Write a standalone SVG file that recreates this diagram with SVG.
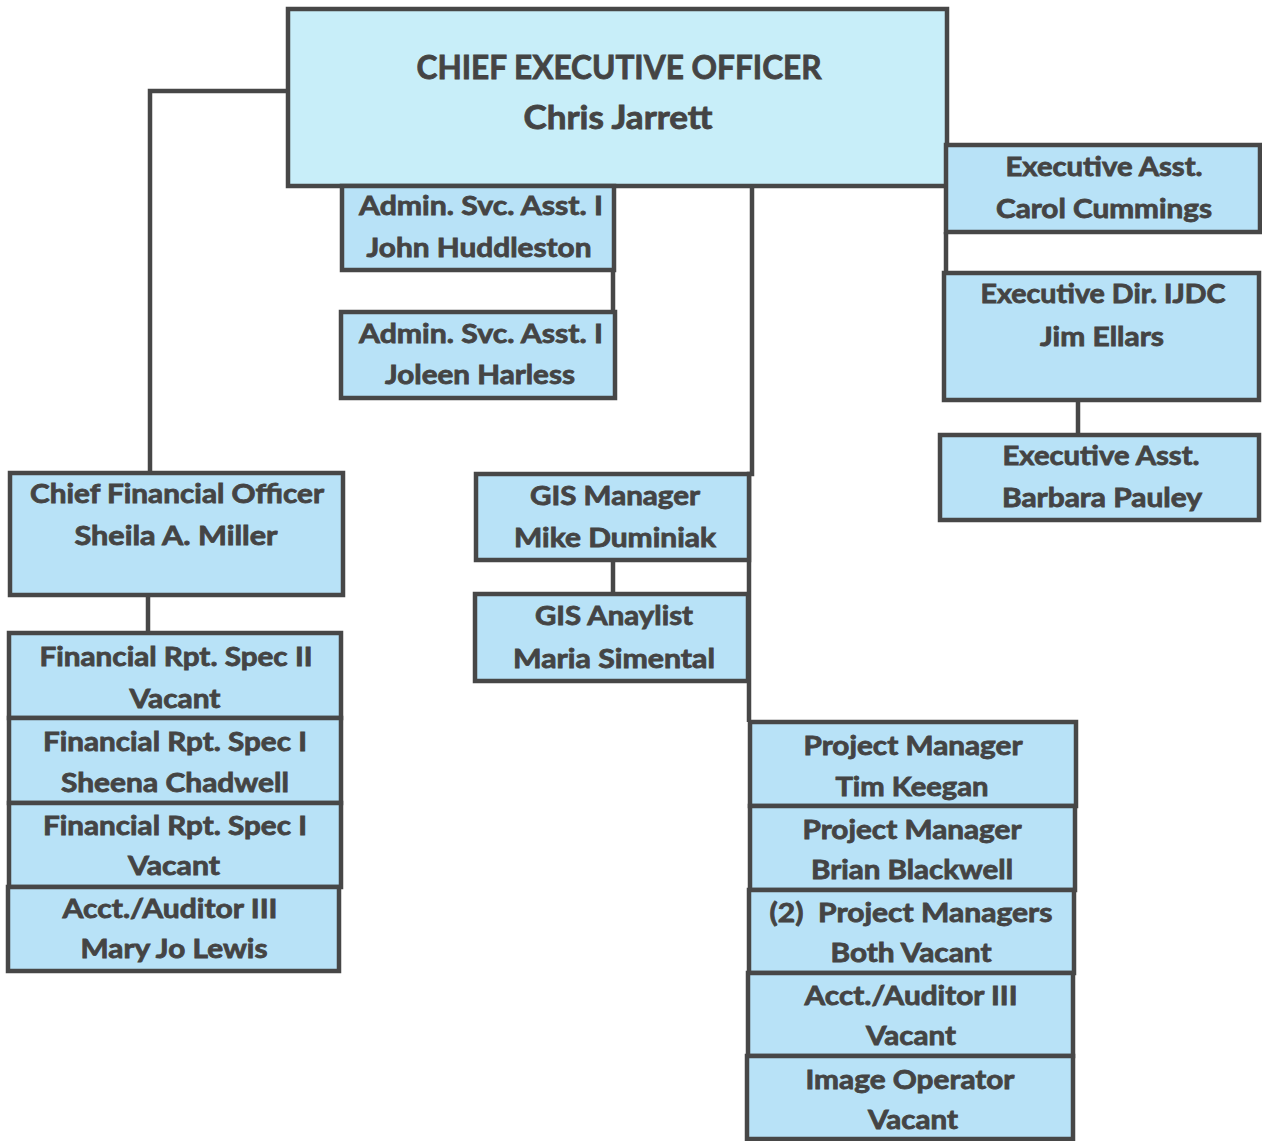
<svg xmlns="http://www.w3.org/2000/svg" width="1262" height="1141" viewBox="0 0 1262 1141">
<style>
.bx{fill:#b8e2f7;stroke:#474747;stroke-width:4.5}
.ceo{fill:#c8eef9;stroke:#474747;stroke-width:4.5}
.ln{fill:none;stroke:#474747;stroke-width:4.5}
text{font-family:Lato,"Open Sans","Liberation Sans",sans-serif;font-weight:bold;fill:#444;stroke:#444;stroke-width:0.8;text-anchor:middle;font-size:26px}
.big{font-size:32px}
</style>
<rect width="1262" height="1141" fill="#ffffff"/>
<g id="connectors">
<path class="ln" d="M288,91 H150 V473"/>
<path class="ln" d="M613,270 V312"/>
<path class="ln" d="M752,186 V474 H749 V722"/>
<path class="ln" d="M613,560 V594"/>
<path class="ln" d="M148,595 V633"/>
<path class="ln" d="M946,232 V273"/>
<path class="ln" d="M1078,400 V435"/>
</g>
<g id="ceo">
<rect class="ceo" x="288" y="9" width="659" height="177"/>
<text class="big" x="619" y="79" textLength="405" lengthAdjust="spacingAndGlyphs">CHIEF EXECUTIVE OFFICER</text>
<text class="big" x="618" y="129" textLength="189" lengthAdjust="spacingAndGlyphs">Chris Jarrett</text>
</g>
<g id="admin1">
<rect class="bx" x="342" y="186" width="272" height="84"/>
<text x="481" y="215" textLength="244" lengthAdjust="spacingAndGlyphs">Admin. Svc. Asst. I</text>
<text x="479" y="257" textLength="225" lengthAdjust="spacingAndGlyphs">John Huddleston</text>
</g>
<g id="admin2">
<rect class="bx" x="341" y="312" width="274" height="86"/>
<text x="481" y="343" textLength="244" lengthAdjust="spacingAndGlyphs">Admin. Svc. Asst. I</text>
<text x="480" y="384" textLength="190" lengthAdjust="spacingAndGlyphs">Joleen Harless</text>
</g>
<g id="exec-asst-carol">
<rect class="bx" x="946" y="145" width="314" height="87"/>
<text x="1104" y="176" textLength="197" lengthAdjust="spacingAndGlyphs">Executive Asst.</text>
<text x="1104" y="218" textLength="216" lengthAdjust="spacingAndGlyphs">Carol Cummings</text>
</g>
<g id="exec-dir">
<rect class="bx" x="944" y="273" width="315" height="127"/>
<text x="1103" y="303" textLength="245" lengthAdjust="spacingAndGlyphs">Executive Dir. IJDC</text>
<text x="1102" y="346" textLength="124" lengthAdjust="spacingAndGlyphs">Jim Ellars</text>
</g>
<g id="exec-asst-barbara">
<rect class="bx" x="940" y="435" width="319" height="85"/>
<text x="1101" y="465" textLength="197" lengthAdjust="spacingAndGlyphs">Executive Asst.</text>
<text x="1102" y="507" textLength="200" lengthAdjust="spacingAndGlyphs">Barbara Pauley</text>
</g>
<g id="cfo">
<rect class="bx" x="10" y="473" width="333" height="122"/>
<text x="177" y="503" textLength="294" lengthAdjust="spacingAndGlyphs">Chief Financial Officer</text>
<text x="176" y="545" textLength="203" lengthAdjust="spacingAndGlyphs">Sheila A. Miller</text>
</g>
<g id="fin-spec-2">
<rect class="bx" x="9" y="633" width="332" height="85"/>
<text x="176" y="666" textLength="273" lengthAdjust="spacingAndGlyphs">Financial Rpt. Spec II</text>
<text x="175" y="708" textLength="91" lengthAdjust="spacingAndGlyphs">Vacant</text>
</g>
<g id="fin-spec-1a">
<rect class="bx" x="9" y="718" width="332" height="85"/>
<text x="175" y="751" textLength="264" lengthAdjust="spacingAndGlyphs">Financial Rpt. Spec I</text>
<text x="175" y="792" textLength="228" lengthAdjust="spacingAndGlyphs">Sheena Chadwell</text>
</g>
<g id="fin-spec-1b">
<rect class="bx" x="9" y="803" width="332" height="84"/>
<text x="175" y="835" textLength="264" lengthAdjust="spacingAndGlyphs">Financial Rpt. Spec I</text>
<text x="174" y="875" textLength="92" lengthAdjust="spacingAndGlyphs">Vacant</text>
</g>
<g id="acct-auditor-cfo">
<rect class="bx" x="8" y="887" width="331" height="84"/>
<text x="170" y="918" textLength="215" lengthAdjust="spacingAndGlyphs">Acct./Auditor III</text>
<text x="174" y="958" textLength="187" lengthAdjust="spacingAndGlyphs">Mary Jo Lewis</text>
</g>
<g id="gis-manager">
<rect class="bx" x="476" y="474" width="273" height="86"/>
<text x="615" y="505" textLength="170" lengthAdjust="spacingAndGlyphs">GIS Manager</text>
<text x="615" y="547" textLength="202" lengthAdjust="spacingAndGlyphs">Mike Duminiak</text>
</g>
<g id="gis-analyst">
<rect class="bx" x="475" y="594" width="273" height="87"/>
<text x="614" y="625" textLength="158" lengthAdjust="spacingAndGlyphs">GIS Anaylist</text>
<text x="614" y="668" textLength="202" lengthAdjust="spacingAndGlyphs">Maria Simental</text>
</g>
<g id="pm-keegan">
<rect class="bx" x="750" y="722" width="326" height="84"/>
<text x="913" y="755" textLength="219" lengthAdjust="spacingAndGlyphs">Project Manager</text>
<text x="912" y="796" textLength="153" lengthAdjust="spacingAndGlyphs">Tim Keegan</text>
</g>
<g id="pm-blackwell">
<rect class="bx" x="750" y="806" width="325" height="84"/>
<text x="912" y="839" textLength="219" lengthAdjust="spacingAndGlyphs">Project Manager</text>
<text x="912" y="879" textLength="202" lengthAdjust="spacingAndGlyphs">Brian Blackwell</text>
</g>
<g id="pm-vacant">
<rect class="bx" x="749" y="890" width="325" height="83"/>
<text x="911" y="922" textLength="283" lengthAdjust="spacingAndGlyphs" xml:space="preserve">(2)  Project Managers</text>
<text x="911" y="962" textLength="161" lengthAdjust="spacingAndGlyphs">Both Vacant</text>
</g>
<g id="acct-auditor-vacant">
<rect class="bx" x="748" y="973" width="325" height="83"/>
<text x="911" y="1005" textLength="213" lengthAdjust="spacingAndGlyphs">Acct./Auditor III</text>
<text x="911" y="1045" textLength="90" lengthAdjust="spacingAndGlyphs">Vacant</text>
</g>
<g id="image-operator">
<rect class="bx" x="747" y="1056" width="326" height="83"/>
<text x="910" y="1089" textLength="209" lengthAdjust="spacingAndGlyphs">Image Operator</text>
<text x="913" y="1129" textLength="90" lengthAdjust="spacingAndGlyphs">Vacant</text>
</g>
</svg>
